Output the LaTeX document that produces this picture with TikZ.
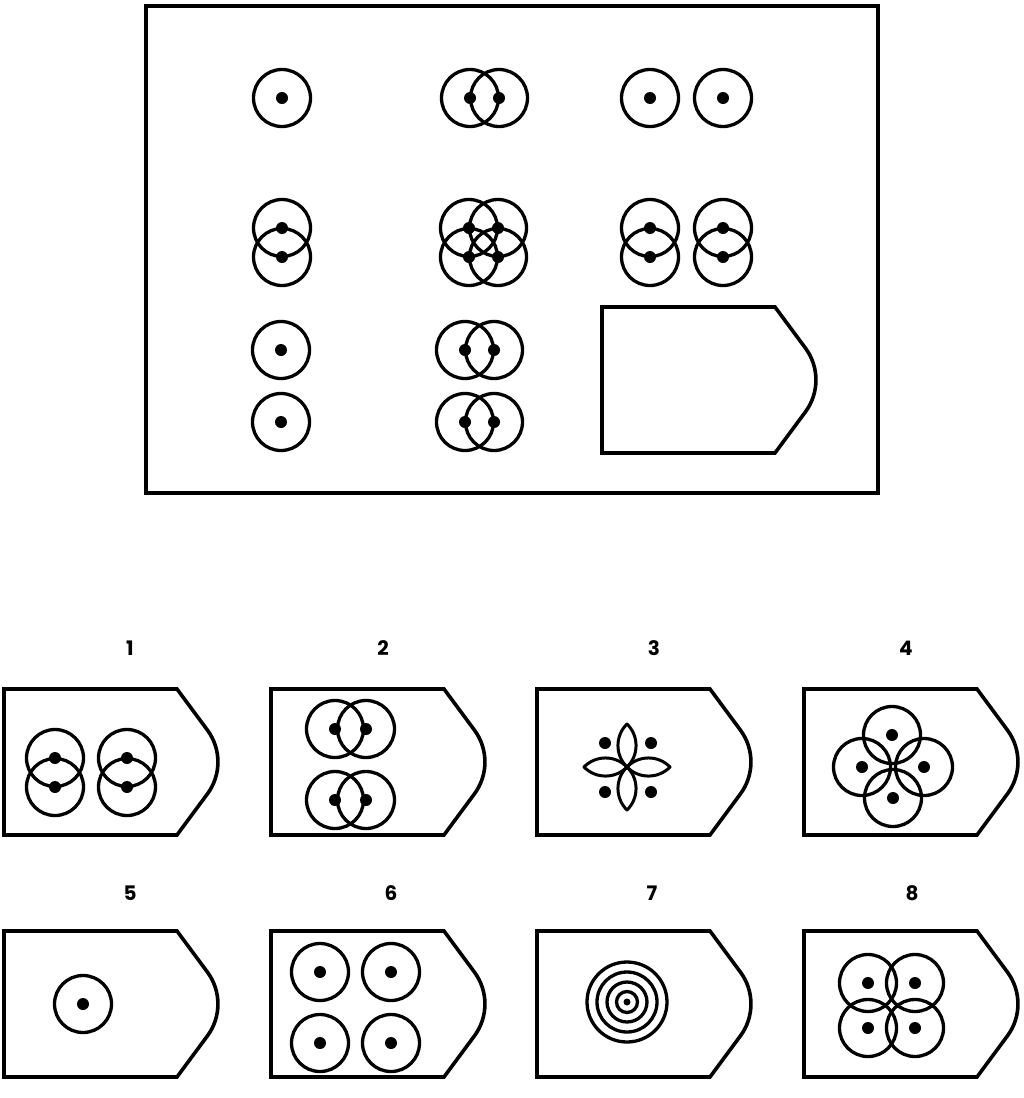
\documentclass[tikz,border=0pt]{standalone}
\usepackage{fontspec}
\setmainfont{Poppins}
\usetikzlibrary{calc}

\tikzset{
  frame/.style={line width=3.6pt, line join=miter},
  ring/.style={line width=3.3pt},
  petal/.style={line width=3pt, line join=round},
  numlabel/.style={font=\fontsize{20}{23}\selectfont\bfseries, inner sep=0pt},
}
% circle with its centre dot
\newcommand{\ringdot}[2]{\draw[ring] (#1,#2) circle[radius=28.5]; \fill (#1,#2) circle[radius=6];}
% answer card: left, top
\newcommand{\tagshape}[2]{\draw[frame] (#1,#2) -- ++(173,0) -- ++(30.2,40.8)
  arc[start angle=-36.9, end angle=36.9, radius=53.6] -- ++(-30.2,40.8) -- ++(-173,0) -- cycle;}

\begin{document}
\begin{tikzpicture}[x=1pt, y=-1pt]
    \useasboundingbox (0,0) rectangle (1024,1098);

    % matrix
    \draw[frame] (146,6) rectangle (878,493);
    \ringdot{282}{98}
    \ringdot{470}{98} \ringdot{499}{98}
    \ringdot{650}{98} \ringdot{723}{98}
    \ringdot{282}{228} \ringdot{282}{257}
    \foreach \x in {469,498} \foreach \y in {228,257} {\ringdot{\x}{\y}}
    \foreach \x in {650,723} \foreach \y in {228,257} {\ringdot{\x}{\y}}
    \ringdot{281}{350} \ringdot{281}{422}
    \foreach \y in {350,422} {\ringdot{465}{\y} \ringdot{494}{\y}}
    \tagshape{602}{307}

    % answers, first row
    \node[numlabel] (n1) at (130,648) {1};
    \node[numlabel] (n2) at (383,648) {2};
    \node[numlabel] (n3) at (654,648) {3};
    \node[numlabel] (n4) at (906,648) {4};
    \foreach \l in {4,271,537,804} {\tagshape{\l}{689}}
    \foreach \x in {55,127} \foreach \y in {758,787} {\ringdot{\x}{\y}}
    \foreach \y in {729,800} {\ringdot{335}{\y} \ringdot{366}{\y}}
    \coordinate (flower) at (627,767);
    \foreach \a in {0,90,180,270}
        \draw[petal, rotate around={\a:(flower)}] (flower) to[bend left=46] ++(43,0) to[bend left=46] (flower);
    \foreach \x in {605,651} \foreach \y in {743,792} {\fill (\x,\y) circle[radius=6];}
    \ringdot{892}{735} \ringdot{862}{767} \ringdot{924}{767} \ringdot{893}{798}

    % answers, second row
    \node[numlabel] (n5) at (130,893) {5};
    \node[numlabel] (n6) at (391,893) {6};
    \node[numlabel] (n7) at (652,893) {7};
    \node[numlabel] (n8) at (912,893) {8};
    \foreach \l in {4,271,537,804} {\tagshape{\l}{931}}
    \ringdot{83}{1004}
    \foreach \x in {320,391} \foreach \y in {972,1043} {\ringdot{\x}{\y}}
    \coordinate (target) at (627,1002);
    \foreach \r in {10.5,20,30,40} {\draw[ring] (target) circle[radius=\r];}
    \fill (target) circle[radius=3.5];
    \foreach \x in {868,915} \foreach \y in {983,1028} {\ringdot{\x}{\y}}
\end{tikzpicture}
\end{document}
